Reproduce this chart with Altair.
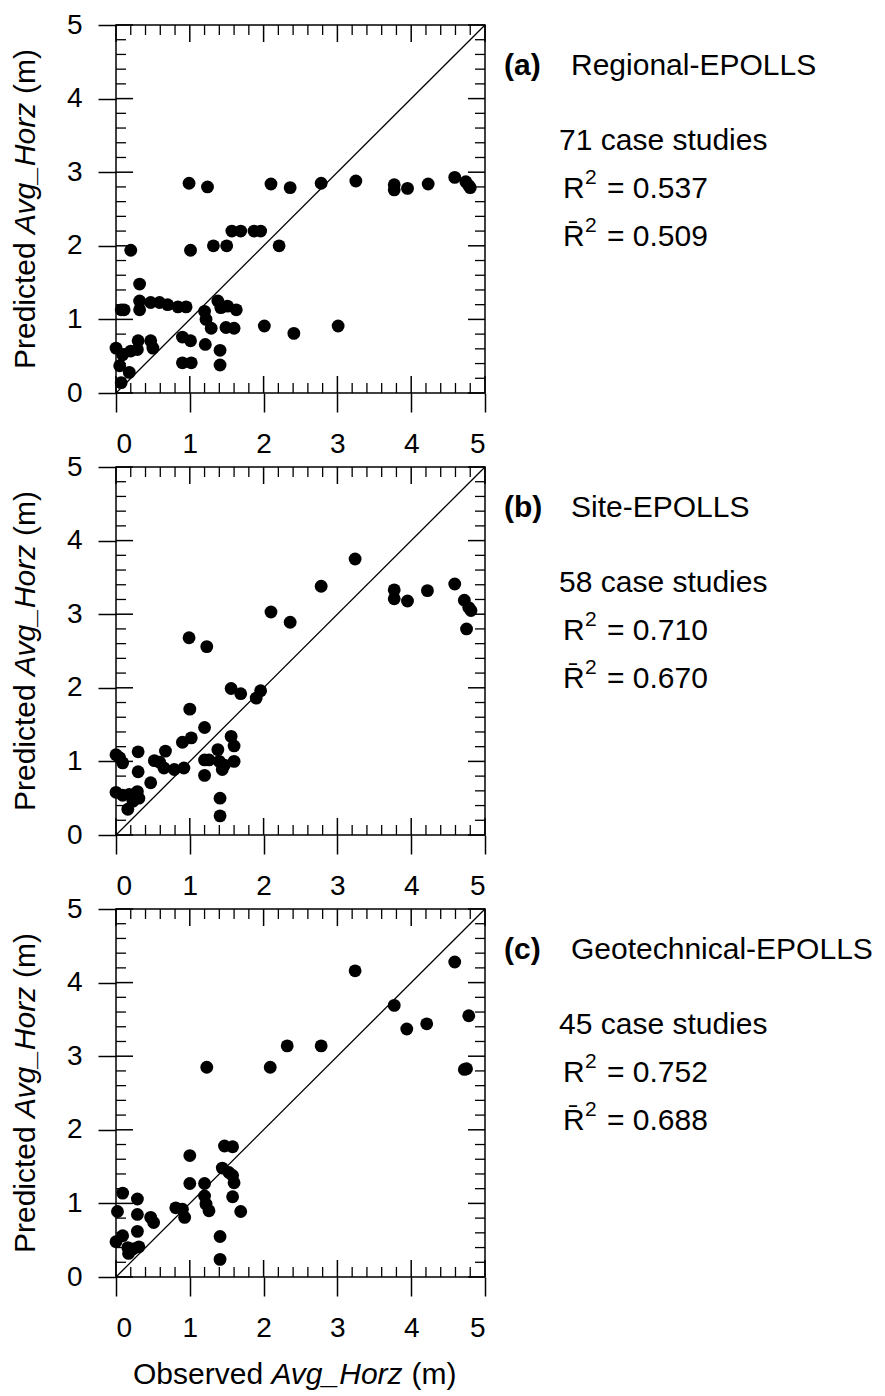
import altair as alt
import pandas as pd

# ---------------- data ----------------
# (a) Regional-EPOLLS
a_obs = [0.99, 1.24, 2.10, 2.36, 2.78, 3.25, 3.77, 3.77, 3.95, 4.23, 4.59, 4.74, 4.78, 4.80,
         1.57, 1.69, 1.87, 1.96,
         1.32, 1.50, 2.21, 1.01, 0.20,
         0.32, 0.32, 0.32, 0.07, 0.11, 0.47, 0.59, 0.70, 0.84, 0.95, 1.20, 1.22, 1.38, 1.42, 1.51, 1.63,
         1.29, 1.49, 1.60, 2.01, 2.41, 3.01,
         0.90, 1.01, 1.21, 1.41, 1.41, 0.90, 1.02, 0.00, 0.09, 0.20, 0.29, 0.30, 0.47, 0.50, 0.05, 0.18, 0.07]
a_pred = [2.85, 2.80, 2.84, 2.79, 2.85, 2.88, 2.83, 2.76, 2.78, 2.84, 2.93, 2.87, 2.82, 2.79,
          2.20, 2.20, 2.20, 2.20,
          2.00, 2.00, 2.00, 1.94, 1.94,
          1.48, 1.25, 1.13, 1.13, 1.13, 1.23, 1.23, 1.20, 1.17, 1.17, 1.11, 1.00, 1.25, 1.16, 1.18, 1.13,
          0.88, 0.89, 0.88, 0.91, 0.81, 0.91,
          0.76, 0.71, 0.66, 0.58, 0.38, 0.41, 0.41, 0.61, 0.52, 0.57, 0.59, 0.71, 0.71, 0.61, 0.37, 0.28, 0.14]

# (b) Site-EPOLLS
b_obs = [3.24, 2.78, 3.77, 3.77, 3.95, 4.22, 4.59, 4.72, 4.78, 4.81, 4.75, 2.10, 2.36, 0.99, 1.23,
         1.56, 1.69, 1.90, 1.96, 1.00, 1.20, 0.90, 1.02, 1.56, 1.60, 0.67, 0.30,
         0.00, 0.05, 0.09, 0.52, 0.59, 0.65, 0.79, 0.92,
         1.20, 1.26, 1.38, 1.40, 1.47, 1.60, 1.44, 1.20, 0.30, 0.47,
         0.00, 0.09, 0.18, 0.29, 0.31, 0.23, 0.16, 1.41, 1.41]
b_pred = [3.75, 3.38, 3.33, 3.21, 3.18, 3.32, 3.41, 3.19, 3.09, 3.05, 2.80, 3.03, 2.89, 2.68, 2.56,
          1.99, 1.92, 1.86, 1.96, 1.71, 1.46, 1.26, 1.32, 1.34, 1.21, 1.14, 1.13,
          1.09, 1.05, 0.98, 1.01, 0.99, 0.91, 0.89, 0.91,
          1.02, 1.02, 1.16, 1.00, 0.95, 1.00, 0.89, 0.81, 0.86, 0.71,
          0.58, 0.54, 0.55, 0.59, 0.50, 0.46, 0.35, 0.50, 0.26]

# (c) Geotechnical-EPOLLS
c_obs = [3.24, 4.59, 3.77, 3.94, 4.21, 4.78, 4.72, 4.75, 2.32, 2.78, 2.09, 1.23,
         1.47, 1.58, 1.00, 1.44, 1.53, 1.58, 1.60, 1.00, 1.20, 1.20, 1.22, 1.26, 1.58, 1.69,
         0.81, 0.90, 0.93, 0.09, 0.02, 0.29, 0.29, 0.47, 0.51,
         0.00, 0.09, 0.29, 0.16, 0.23, 0.31, 0.17, 1.41, 1.41]
c_pred = [4.16, 4.28, 3.69, 3.37, 3.44, 3.55, 2.82, 2.83, 3.14, 3.14, 2.85, 2.85,
          1.78, 1.77, 1.65, 1.48, 1.42, 1.38, 1.28, 1.27, 1.27, 1.10, 0.99, 0.90, 1.09, 0.89,
          0.94, 0.92, 0.81, 1.14, 0.89, 1.06, 0.85, 0.81, 0.74,
          0.48, 0.56, 0.62, 0.40, 0.38, 0.41, 0.32, 0.55, 0.24]

panel_tags = ["(a)", "(b)", "(c)"]
panel_names = ["Regional-EPOLLS", "Site-EPOLLS", "Geotechnical-EPOLLS"]
case_counts = ["71 case studies", "58 case studies", "45 case studies"]
r2_values = ["0.537", "0.710", "0.752"]
r2adj_values = ["0.509", "0.670", "0.688"]

major_ticks = [0, 1, 2, 3, 4, 5]
minor_ticks = [i / 5 for i in range(26) if i % 5]
line_ends = [0, 5]

# ---------------- styling / layout ----------------
W, H = 369, 368
FONT = "Liberation Sans"
DOMAIN = [0, 5]


def scale():
    return alt.Scale(domain=DOMAIN, nice=False, zero=False)


def xaxis():
    return alt.Axis(values=major_ticks, format="d", tickSize=19, tickWidth=1.5, tickColor="black",
                    labelPadding=18, labelFontSize=28, labelFont=FONT, labelColor="black",
                    domain=False, grid=False, title=None)


def yaxis():
    return alt.Axis(values=major_ticks, format="d", tickSize=18, tickWidth=1.5, tickColor="black",
                    labelPadding=16, labelFontSize=28, labelFont=FONT, labelColor="black",
                    domain=False, grid=False, title=None)


def X(field="obs"):
    return alt.X(f"{field}:Q", scale=scale(), axis=xaxis())


def Y(field="pred"):
    return alt.Y(f"{field}:Q", scale=scale(), axis=yaxis())


def txt(s, x, y, size=30, weight="normal", style="normal", align="left", angle=0):
    return alt.Chart(pd.DataFrame({"t": [s]})).mark_text(
        align=align, baseline="alphabetic", font=FONT, fontSize=size, fontWeight=weight,
        fontStyle=style, angle=angle, color="black"
    ).encode(x=alt.value(x), y=alt.value(y), text="t:N")


def inner_ticks(vals, length, width):
    xs = pd.DataFrame({"obs": vals})
    ys = pd.DataFrame({"pred": vals})
    style = dict(color="black", strokeWidth=width)
    bottom = alt.Chart(xs).mark_rule(**style).encode(x=X(), y=alt.value(H), y2=alt.value(H - length))
    top = alt.Chart(xs).mark_rule(**style).encode(x=X(), y=alt.value(0), y2=alt.value(length))
    left = alt.Chart(ys).mark_rule(**style).encode(y=Y(), x=alt.value(0), x2=alt.value(length))
    right = alt.Chart(ys).mark_rule(**style).encode(y=Y(), x=alt.value(W), x2=alt.value(W - length))
    return [bottom, top, left, right]


def panel(i, obs, pred, show_xtitle):
    pts = alt.Chart(pd.DataFrame({"obs": obs, "pred": pred})).mark_circle(
        size=165, color="black", opacity=1
    ).encode(x=X(), y=Y())

    diag_df = pd.DataFrame({"obs": [line_ends[0]], "pred": [line_ends[0]],
                            "obs2": [line_ends[1]], "pred2": [line_ends[1]]})
    diag = alt.Chart(diag_df).mark_rule(color="black", strokeWidth=1.3).encode(
        x=X(), y=Y(), x2="obs2:Q", y2="pred2:Q")

    layers = [diag, pts]
    layers += inner_ticks(minor_ticks, 10, 1.3)
    layers += inner_ticks(major_ticks, 17, 1.5)

    # y-axis title (with italic variable name)
    layers += [
        txt("Predicted", -81.5, 344, angle=270),
        txt("Avg_Horz", -81.5, 209, style="italic", angle=270),
        txt("(m)", -81.5, 69, angle=270),
    ]
    if show_xtitle:
        layers += [
            txt("Observed", 17, H + 107),
            txt("Avg_Horz", 155.4, H + 107, style="italic"),
            txt("(m)", 295.4, H + 107),
        ]

    # annotations on the right
    bar_r = "R\u0304"
    layers += [
        txt(panel_tags[i], 388, 50, size=30, weight="bold"),
        txt(panel_names[i], 455, 50),
        txt(case_counts[i], 443, 125),
        txt("R", 447, 173),
        txt("2", 469, 159, size=21),
        txt("= " + r2_values[i], 491, 173),
        txt(bar_r, 447, 221),
        txt("2", 469, 207, size=21),
        txt("= " + r2adj_values[i], 491, 221),
    ]
    return alt.layer(*layers).properties(width=W, height=H)


chart = alt.vconcat(
    panel(0, a_obs, a_pred, False),
    panel(1, b_obs, b_pred, False),
    panel(2, c_obs, c_pred, True),
    spacing=74,
    bounds="flush",
).configure(
    padding={"left": 9, "top": 10, "right": 0, "bottom": 0},
    background="white",
).configure_view(stroke="black", strokeWidth=1.5)

chart.save("out.html", embed_options={"renderer": "svg", "actions": False})
